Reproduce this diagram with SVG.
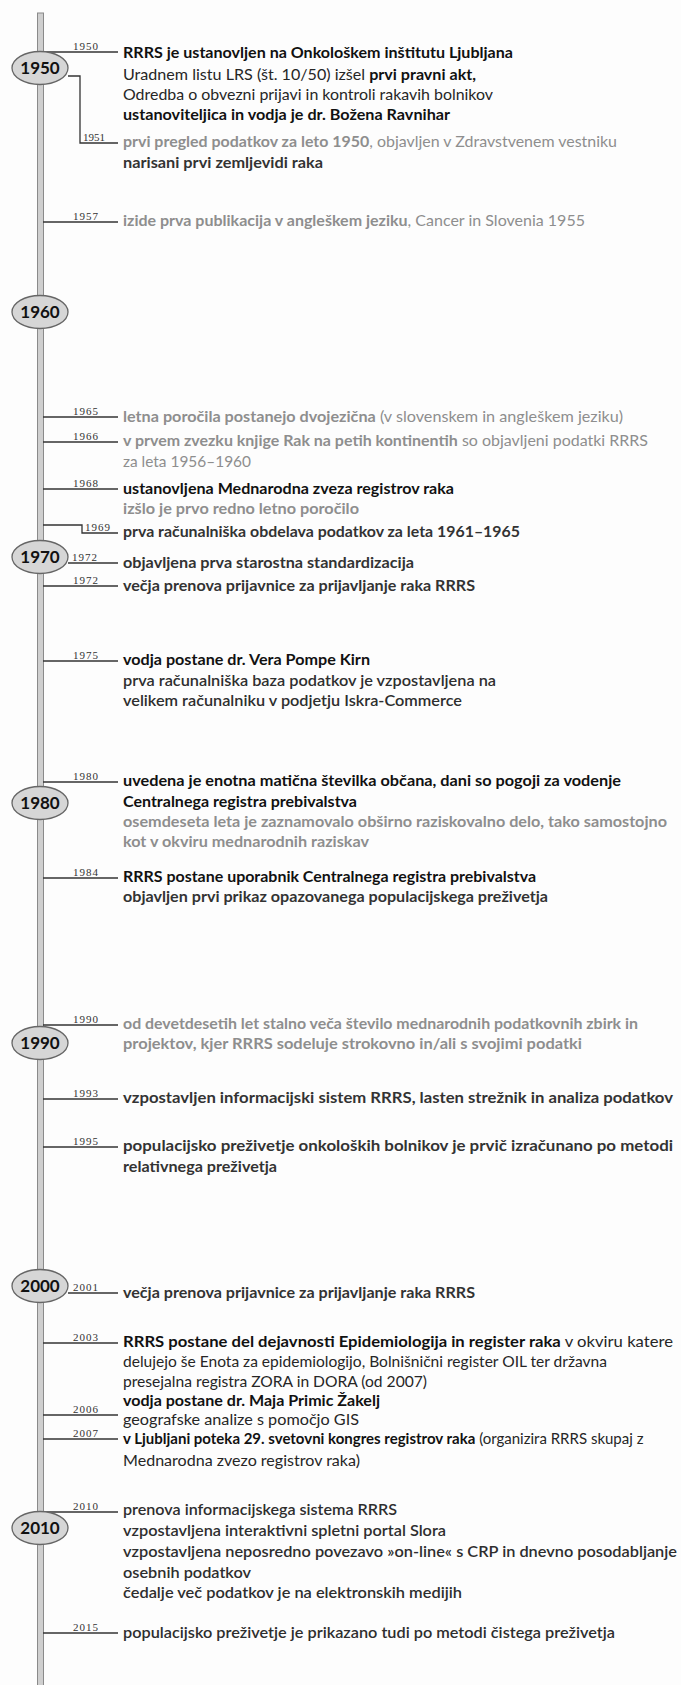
<svg xmlns="http://www.w3.org/2000/svg" width="681" height="1685" viewBox="0 0 681 1685">
<style>
.t{font-family:Lato,"Open Sans",sans-serif;font-size:15px}
.b{font-weight:700;fill:#111}
.bd{font-weight:700;fill:#333}
.r{font-weight:400;fill:#262626}
.s{font-weight:600;fill:#2e2e2e}
.g{font-weight:700;fill:#8e8e8e}
.gr{font-weight:400;fill:#8e8e8e}
.yr{font-family:"Liberation Serif",serif;font-size:11px;fill:#333}
.dec{font-family:Lato,sans-serif;font-weight:700;font-size:17px;fill:#111;text-anchor:middle}
.tick{stroke:#333;stroke-width:1.3;fill:none}
.ell{fill:#d6d6d6;stroke:#666;stroke-width:1.3}
</style>
<rect width="681" height="1685" fill="#fdfdfd"/>
<g id="axis">
<rect x="37.5" y="13" width="6" height="1680" fill="#cfcfcf" stroke="#8a8a8a" stroke-width="1"/>
</g>
<g id="connectors">
<path class="tick" d="M43 52H118"/>
<path class="tick" d="M68 76H80V143H118"/>
<path class="tick" d="M43 222H118"/>
<path class="tick" d="M43 417H118"/>
<path class="tick" d="M43 442H118"/>
<path class="tick" d="M43 489H118"/>
<path class="tick" d="M43 525H82V533H118"/>
<path class="tick" d="M68 563H118"/>
<path class="tick" d="M43 586H118"/>
<path class="tick" d="M43 661H118"/>
<path class="tick" d="M43 782H118"/>
<path class="tick" d="M43 878H118"/>
<path class="tick" d="M43 1025H118"/>
<path class="tick" d="M43 1099H118"/>
<path class="tick" d="M43 1147H118"/>
<path class="tick" d="M68 1293H118"/>
<path class="tick" d="M43 1343H118"/>
<path class="tick" d="M43 1415H118"/>
<path class="tick" d="M43 1439H118"/>
<path class="tick" d="M43 1512H118"/>
<path class="tick" d="M43 1633H118"/>
</g>
<g id="decades">
<g id="d1950"><ellipse class="ell" cx="40" cy="68" rx="28" ry="16.5"/><text class="dec" x="40" y="74">1950</text></g>
<g id="d1960"><ellipse class="ell" cx="40" cy="312" rx="28" ry="16.5"/><text class="dec" x="40" y="318">1960</text></g>
<g id="d1970"><ellipse class="ell" cx="40" cy="557" rx="28" ry="16.5"/><text class="dec" x="40" y="563">1970</text></g>
<g id="d1980"><ellipse class="ell" cx="40" cy="803" rx="28" ry="16.5"/><text class="dec" x="40" y="809">1980</text></g>
<g id="d1990"><ellipse class="ell" cx="40" cy="1043" rx="28" ry="16.5"/><text class="dec" x="40" y="1049">1990</text></g>
<g id="d2000"><ellipse class="ell" cx="40" cy="1286" rx="28" ry="16.5"/><text class="dec" x="40" y="1292">2000</text></g>
<g id="d2010"><ellipse class="ell" cx="40" cy="1528" rx="28" ry="16.5"/><text class="dec" x="40" y="1534">2010</text></g>
</g>
<g id="e1950"><text class="yr" x="73" y="50" textLength="25">1950</text>
<text class="t b" x="123" y="58" textLength="390" lengthAdjust="spacingAndGlyphs">RRRS je ustanovljen na Onkološkem inštitutu Ljubljana</text>
<text class="t" x="123" y="80" textLength="353" lengthAdjust="spacingAndGlyphs"><tspan class="r">Uradnem listu LRS (št. 10/50) izšel </tspan><tspan class="b">prvi pravni akt,</tspan></text>
<text class="t r" x="123" y="100" textLength="370" lengthAdjust="spacingAndGlyphs">Odredba o obvezni prijavi in kontroli rakavih bolnikov</text>
<text class="t b" x="123" y="120" textLength="327" lengthAdjust="spacingAndGlyphs">ustanoviteljica in vodja je dr. Božena Ravnihar</text></g>
<g id="e1951"><text class="yr" x="83" y="141" textLength="22">1951</text>
<text class="t" x="123" y="147" textLength="494" lengthAdjust="spacingAndGlyphs"><tspan class="g">prvi pregled podatkov za leto 1950</tspan><tspan class="gr">, objavljen v Zdravstvenem vestniku</tspan></text>
<text class="t bd" x="123" y="168" textLength="200" lengthAdjust="spacingAndGlyphs">narisani prvi zemljevidi raka</text></g>
<g id="e1957"><text class="yr" x="73" y="220" textLength="25">1957</text>
<text class="t" x="123" y="226" textLength="462" lengthAdjust="spacingAndGlyphs"><tspan class="g">izide prva publikacija v angleškem jeziku</tspan><tspan class="gr">, Cancer in Slovenia 1955</tspan></text></g>
<g id="e1965"><text class="yr" x="73" y="415" textLength="25">1965</text>
<text class="t" x="123" y="422" textLength="500" lengthAdjust="spacingAndGlyphs"><tspan class="g">letna poročila postanejo dvojezična</tspan><tspan class="gr"> (v slovenskem in angleškem jeziku)</tspan></text></g>
<g id="e1966"><text class="yr" x="73" y="440" textLength="25">1966</text>
<text class="t" x="123" y="446" textLength="525" lengthAdjust="spacingAndGlyphs"><tspan class="g">v prvem zvezku knjige Rak na petih kontinentih</tspan><tspan class="gr"> so objavljeni podatki RRRS</tspan></text>
<text class="t gr" x="123" y="467" textLength="128" lengthAdjust="spacingAndGlyphs">za leta 1956–1960</text></g>
<g id="e1968"><text class="yr" x="73" y="487" textLength="25">1968</text>
<text class="t b" x="123" y="494" textLength="331" lengthAdjust="spacingAndGlyphs">ustanovljena Mednarodna zveza registrov raka</text>
<text class="t g" x="123" y="514" textLength="236" lengthAdjust="spacingAndGlyphs">izšlo je prvo redno letno poročilo</text></g>
<g id="e1969"><text class="yr" x="85" y="531" textLength="25">1969</text>
<text class="t bd" x="123" y="537" textLength="397" lengthAdjust="spacingAndGlyphs">prva računalniška obdelava podatkov za leta 1961–1965</text></g>
<g id="e1972a"><text class="yr" x="72" y="561" textLength="25">1972</text>
<text class="t bd" x="123" y="568" textLength="291" lengthAdjust="spacingAndGlyphs">objavljena prva starostna standardizacija</text></g>
<g id="e1972b"><text class="yr" x="73" y="584" textLength="25">1972</text>
<text class="t bd" x="123" y="591" textLength="352" lengthAdjust="spacingAndGlyphs">večja prenova prijavnice za prijavljanje raka RRRS</text></g>
<g id="e1975"><text class="yr" x="73" y="659" textLength="25">1975</text>
<text class="t b" x="123" y="665" textLength="247" lengthAdjust="spacingAndGlyphs">vodja postane dr. Vera Pompe Kirn</text>
<text class="t s" x="123" y="686" textLength="373" lengthAdjust="spacingAndGlyphs">prva računalniška baza podatkov je vzpostavljena na</text>
<text class="t s" x="123" y="706" textLength="339" lengthAdjust="spacingAndGlyphs">velikem računalniku v podjetju Iskra-Commerce</text></g>
<g id="e1980"><text class="yr" x="73" y="780" textLength="25">1980</text>
<text class="t b" x="123" y="786" textLength="498" lengthAdjust="spacingAndGlyphs">uvedena je enotna matična številka občana, dani so pogoji za vodenje</text>
<text class="t b" x="123" y="807" textLength="234" lengthAdjust="spacingAndGlyphs">Centralnega registra prebivalstva</text>
<text class="t g" x="123" y="827" textLength="544" lengthAdjust="spacingAndGlyphs">osemdeseta leta je zaznamovalo obširno raziskovalno delo, tako samostojno</text>
<text class="t g" x="123" y="847" textLength="246" lengthAdjust="spacingAndGlyphs">kot v okviru mednarodnih raziskav</text></g>
<g id="e1984"><text class="yr" x="73" y="876" textLength="25">1984</text>
<text class="t b" x="123" y="882" textLength="413" lengthAdjust="spacingAndGlyphs">RRRS postane uporabnik Centralnega registra prebivalstva</text>
<text class="t bd" x="123" y="902" textLength="425" lengthAdjust="spacingAndGlyphs">objavljen prvi prikaz opazovanega populacijskega preživetja</text></g>
<g id="e1990"><text class="yr" x="73" y="1023" textLength="25">1990</text>
<text class="t g" x="123" y="1029" textLength="515" lengthAdjust="spacingAndGlyphs">od devetdesetih let stalno veča število mednarodnih podatkovnih zbirk in</text>
<text class="t g" x="123" y="1049" textLength="459" lengthAdjust="spacingAndGlyphs">projektov, kjer RRRS sodeluje strokovno in/ali s svojimi podatki</text></g>
<g id="e1993"><text class="yr" x="73" y="1097" textLength="25">1993</text>
<text class="t bd" x="123" y="1103" textLength="550" lengthAdjust="spacingAndGlyphs">vzpostavljen informacijski sistem RRRS, lasten strežnik in analiza podatkov</text></g>
<g id="e1995"><text class="yr" x="73" y="1145" textLength="25">1995</text>
<text class="t bd" x="123" y="1151" textLength="550" lengthAdjust="spacingAndGlyphs">populacijsko preživetje onkoloških bolnikov je prvič izračunano po metodi</text>
<text class="t bd" x="123" y="1172" textLength="154" lengthAdjust="spacingAndGlyphs">relativnega preživetja</text></g>
<g id="e2001"><text class="yr" x="73" y="1291" textLength="25">2001</text>
<text class="t bd" x="123" y="1298" textLength="352" lengthAdjust="spacingAndGlyphs">večja prenova prijavnice za prijavljanje raka RRRS</text></g>
<g id="e2003"><text class="yr" x="73" y="1341" textLength="25">2003</text>
<text class="t" x="123" y="1347" textLength="550" lengthAdjust="spacingAndGlyphs"><tspan class="b">RRRS postane del dejavnosti Epidemiologija in register raka</tspan><tspan class="r"> v okviru katere</tspan></text>
<text class="t r" x="123" y="1367" textLength="484" lengthAdjust="spacingAndGlyphs">delujejo še Enota za epidemiologijo, Bolnišnični register OIL ter državna</text>
<text class="t r" x="123" y="1387" textLength="304" lengthAdjust="spacingAndGlyphs">presejalna registra ZORA in DORA (od 2007)</text></g>
<g id="e2006"><text class="yr" x="73" y="1413" textLength="25">2006</text>
<text class="t b" x="123" y="1406" textLength="257" lengthAdjust="spacingAndGlyphs">vodja postane dr. Maja Primic Žakelj</text>
<text class="t r" x="123" y="1425" textLength="236" lengthAdjust="spacingAndGlyphs">geografske analize s pomočjo GIS</text></g>
<g id="e2007"><text class="yr" x="73" y="1437" textLength="25">2007</text>
<text class="t" y="1444"><tspan class="b" x="123">v Ljubljani poteka 29. svetovni kongres registrov raka</tspan><tspan class="r"> (organizira RRRS skupaj z</tspan></text>
<text class="t r" x="123" y="1466" textLength="237" lengthAdjust="spacingAndGlyphs">Mednarodna zvezo registrov raka)</text></g>
<g id="e2010"><text class="yr" x="73" y="1510" textLength="25">2010</text>
<text class="t s" x="123" y="1515" textLength="274" lengthAdjust="spacingAndGlyphs">prenova informacijskega sistema RRRS</text>
<text class="t s" x="123" y="1536" textLength="323" lengthAdjust="spacingAndGlyphs">vzpostavljena interaktivni spletni portal Slora</text>
<text class="t s" x="123" y="1557" textLength="554" lengthAdjust="spacingAndGlyphs">vzpostavljena neposredno povezavo »on-line« s CRP in dnevno posodabljanje</text>
<text class="t s" x="123" y="1578" textLength="128" lengthAdjust="spacingAndGlyphs">osebnih podatkov</text>
<text class="t s" x="123" y="1598" textLength="339" lengthAdjust="spacingAndGlyphs">čedalje več podatkov je na elektronskih medijih</text></g>
<g id="e2015"><text class="yr" x="73" y="1631" textLength="25">2015</text>
<text class="t s" x="123" y="1638" textLength="492" lengthAdjust="spacingAndGlyphs">populacijsko preživetje je prikazano tudi po metodi čistega preživetja</text></g>
</svg>
